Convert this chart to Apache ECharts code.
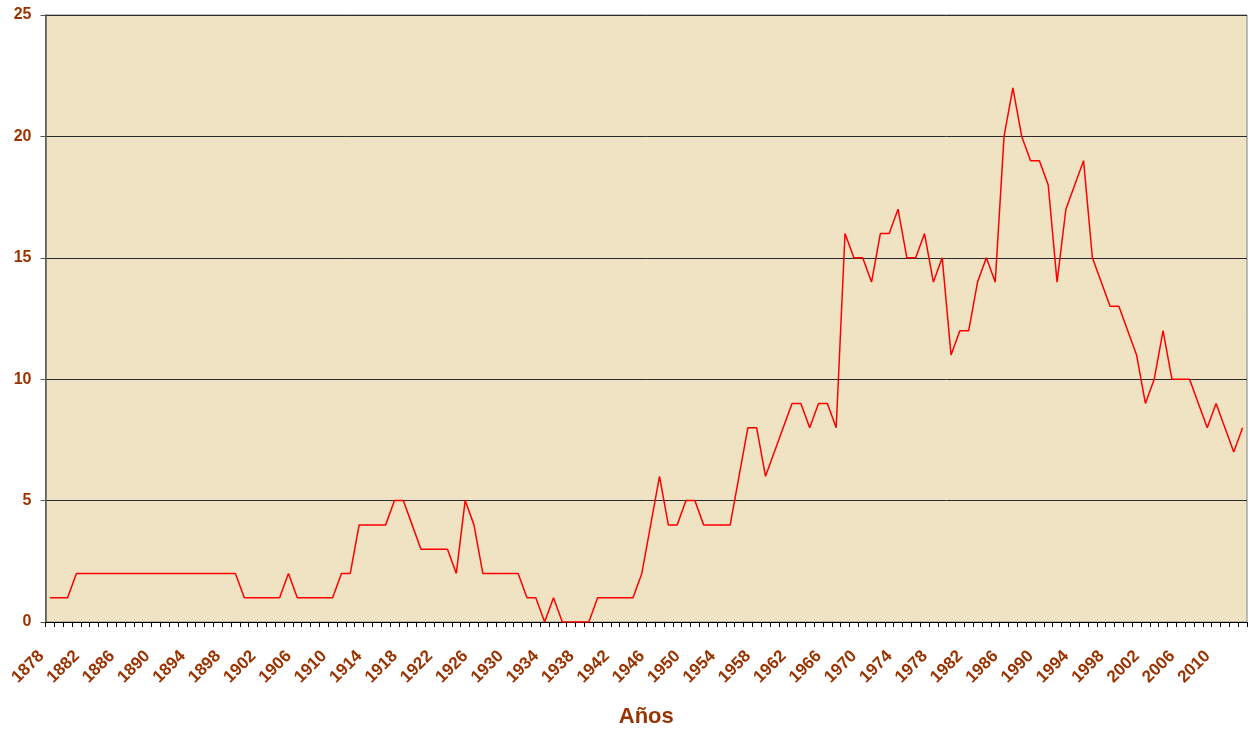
<!DOCTYPE html>
<html>
<head>
<meta charset="utf-8">
<script src="https://cdn.jsdelivr.net/npm/echarts@6/dist/echarts.min.js"></script>
<style>
  html, body { margin: 0; padding: 0; background: #fff; }
  #chart { width: 1249px; height: 729px; }
</style>
</head>
<body>
<div id="chart"></div>
<script>
// años 1878 - 2013
const years = []
for (let y = 1878; y <= 2013; y++) years.push(String(y))

// valores, uno por año
const valores = [
  1, 1, 1,
  2, 2, 2, 2, 2, 2, 2, 2, 2, 2, 2, 2, 2, 2, 2, 2, 2, 2, 2, // 1881-1899
  1, 1, 1, 1, 1, // 1900-1904
  2, // 1905
  1, 1, 1, 1, 1, // 1906-1910
  2, 2, 4, 4, 4, 4, 5, 5, 4, 3, // 1911-1920
  3, 3, 3, 2, 5, 4, 2, 2, 2, 2, // 1921-1930
  2, 1, 1, 0, 1, 0, 0, 0, 0, 1, // 1931-1940
  1, 1, 1, 1, 2, 4, 6, 4, 4, 5, // 1941-1950
  5, 4, 4, 4, 4, 6, 8, 8, 6, 7, // 1951-1960
  8, 9, 9, 8, 9, 9, 8, 16, 15, 15, // 1961-1970
  14, 16, 16, 17, 15, 15, 16, 14, 15, 11, // 1971-1980
  12, 12, 14, 15, 14, 20, 22, 20, 19, 19, // 1981-1990
  18, 14, 17, 18, 19, 15, 14, 13, 13, 12, // 1991-2000
  11, 9, 10, 12, 10, 10, 10, 9, 8, 9, // 2001-2010
  8, 7, 8 // 2011-2013
]

const yMin = 0
const yMax = 25
const yStep = 5

const labelColor = '#993300'
const fontFamily = '"Liberation Sans", Arial, sans-serif'

const myChart = echarts.init(document.getElementById('chart'))

const option = {
  animation: false,
  grid: {
    left: 45.5,
    right: 2,
    top: 15,
    bottom: 107,
    containLabel: false,
    outerBoundsMode: 'none',
    show: true,
    backgroundColor: '#f0e3c3',
    borderColor: '#808080',
    borderWidth: 1
  },
  xAxis: {
    type: 'category',
    data: years,
    boundaryGap: true,
    name: 'Años',
    nameLocation: 'middle',
    nameGap: 84,
    nameTextStyle: {
      color: labelColor,
      fontWeight: 'bold',
      fontSize: 22,
      fontFamily: fontFamily
    },
    axisLine: { lineStyle: { color: '#000', width: 1 } },
    axisTick: {
      show: true,
      interval: 0,
      length: 5,
      lineStyle: { color: '#000' }
    },
    axisLabel: {
      interval: 3,
      rotate: 45,
      margin: 23,
      padding: [0, 12, 0, 0],
      color: labelColor,
      fontWeight: 'bold',
      fontSize: 17,
      fontFamily: fontFamily
    },
    splitLine: { show: false }
  },
  yAxis: {
    type: 'value',
    min: yMin,
    max: yMax,
    interval: yStep,
    axisLine: { show: true, lineStyle: { color: '#555', width: 1.5 } },
    axisTick: { show: true, length: 5, lineStyle: { color: '#555' } },
    axisLabel: {
      margin: 14,
      color: labelColor,
      fontWeight: 'bold',
      fontSize: 16,
      fontFamily: fontFamily
    },
    splitLine: { show: true, lineStyle: { color: '#2b2b2b', width: 1 } }
  },
  series: [{
    name: 'valores',
    type: 'line',
    data: valores,
    showSymbol: false,
    symbol: 'none',
    lineStyle: { color: '#ff0000', width: 1.5 },
    itemStyle: { color: '#ff0000' }
  }]
}

myChart.setOption(option, true)
</script>
</body>
</html>
